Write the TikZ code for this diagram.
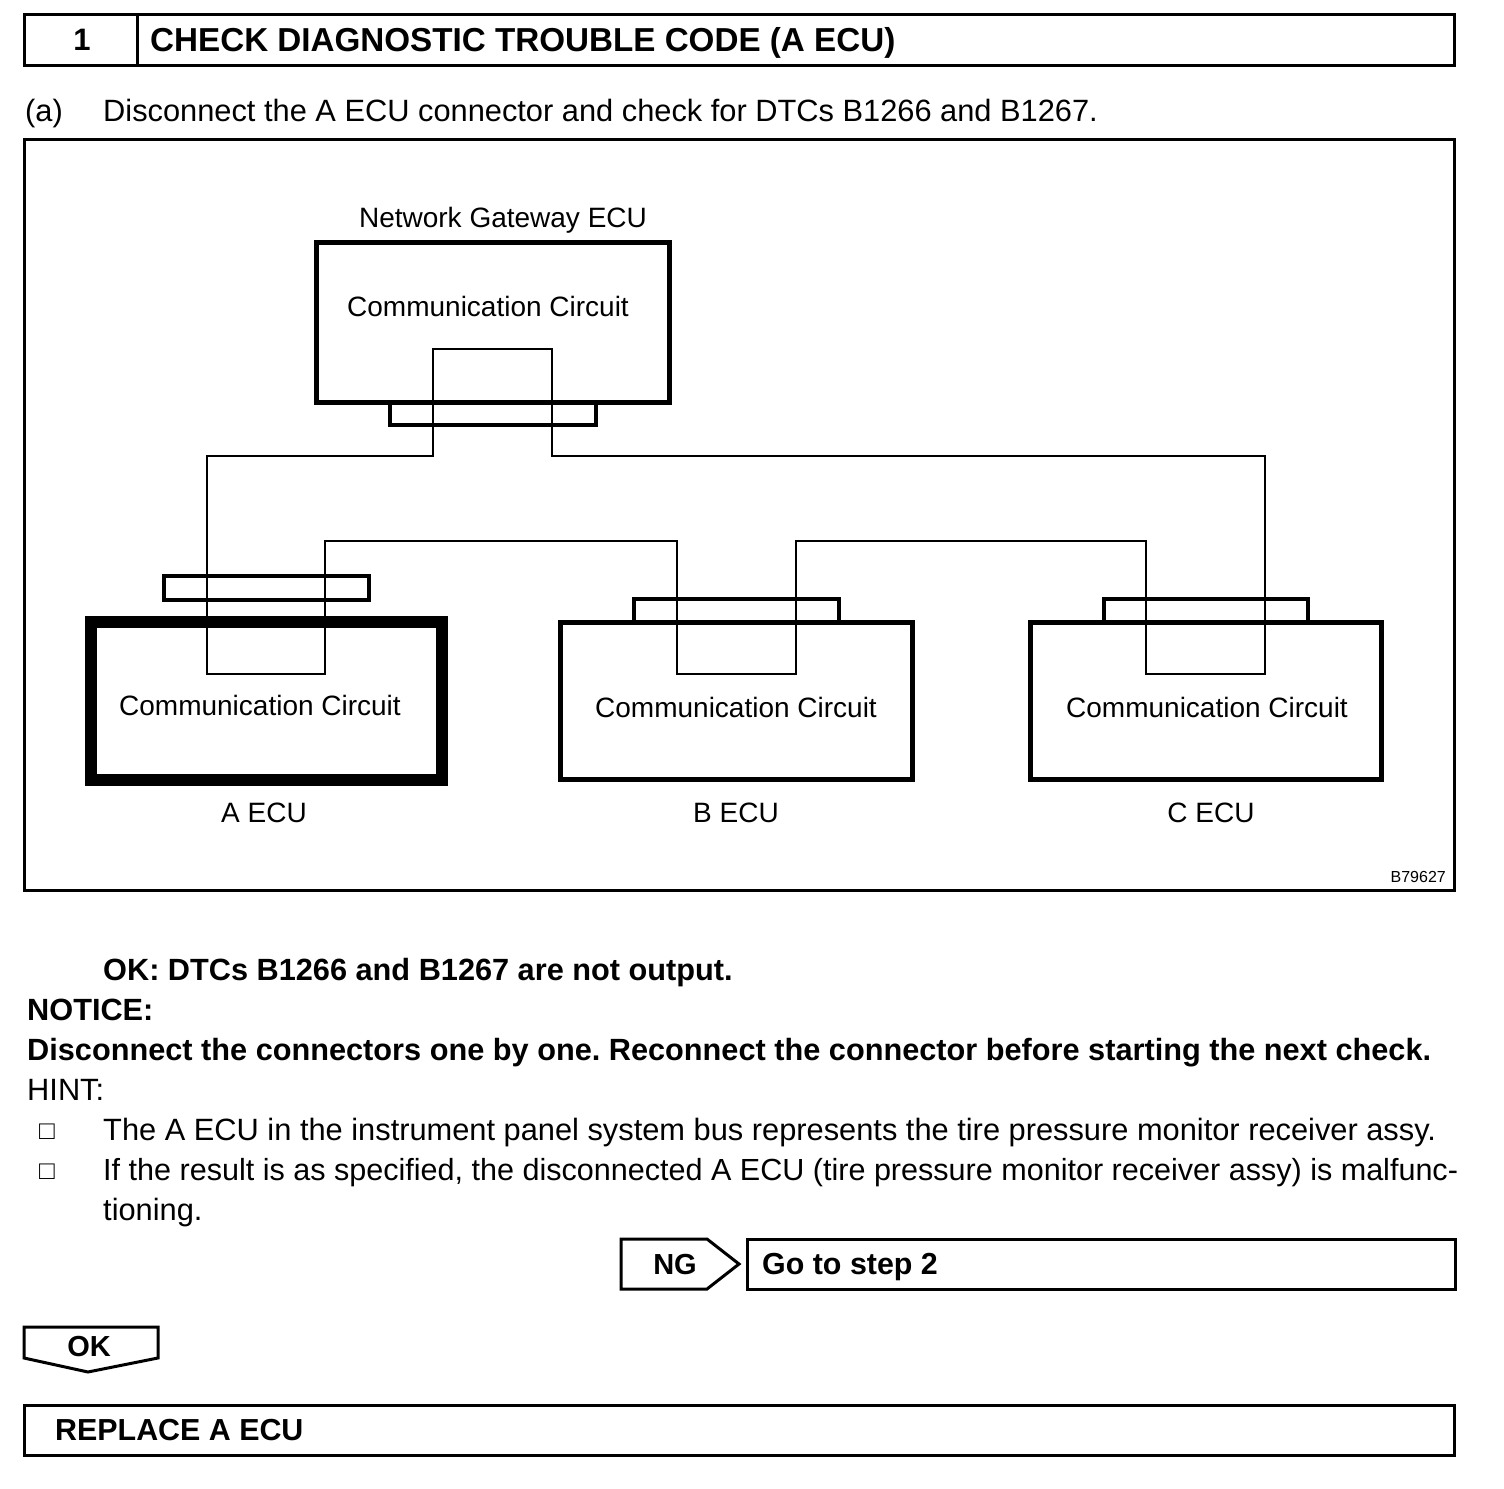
\documentclass[tikz,border=0pt]{standalone}
\usepackage{fontspec}
\setmainfont{Liberation Sans}
\frenchspacing
\begin{document}
\begin{tikzpicture}[x=1pt,y=-1pt,
  txt/.style={font=\fontsize{30.8}{34}\selectfont, inner sep=0pt, anchor=base west},
  btxt/.style={font=\fontsize{30.7}{34}\selectfont\bfseries, inner sep=0pt, anchor=base west},
  ctxt/.style={font=\fontsize{28}{32}\selectfont, inner sep=0pt, anchor=base},
  bullet/.style={font=\fontsize{26}{28}\selectfont, inner sep=0pt, anchor=base},
  thinbox/.style={draw, line width=3pt},
  ecubox/.style={draw, line width=5pt, inner sep=0pt, outer sep=0pt},
  conbox/.style={draw, line width=4pt, inner sep=0pt, outer sep=0pt},
  wire/.style={draw, line width=2.6pt, line join=miter},
  ]
\useasboundingbox (0,0) rectangle (1504,1488);
% header
\draw[thinbox] (24,15) rectangle (1454,66);
\draw[thinbox] (137,15) -- (137,66);
\node[font=\fontsize{31}{34}\selectfont\bfseries, inner sep=0pt, anchor=base] (num) at (82,51) {1};
\node[font=\fontsize{33.2}{36}\selectfont\bfseries, inner sep=0pt, anchor=base west] (title) at (150,52) {CHECK DIAGNOSTIC TROUBLE CODE (A ECU)};
% step (a)
\node[txt] (a) at (25,121) {(a)};
\node[txt] (atext) at (103,121) {Disconnect the A ECU connector and check for DTCs B1266 and B1267.};
% frame
\draw[thinbox] (24,139) rectangle (1454,890);
% gateway
\node[ctxt] (gwlabel) at (503,227) {Network Gateway ECU};
\node[ecubox, minimum width=353pt, minimum height=160pt] (gw) at (492.5,322) {};
\node[ctxt] (gwtext) at (488,316) {Communication Circuit};
\node[conbox, minimum width=206pt, minimum height=23pt] (gwcon) at (493,413.5) {};
% A ECU
\node[draw, line width=12pt, minimum width=351pt, minimum height=158pt, inner sep=0pt] (aecu) at (266.5,701) {};
\node[conbox, minimum width=205pt, minimum height=24pt] (acon) at (266.5,588) {};
\node[ctxt] (atxt) at (260,715) {Communication Circuit};
\node[ctxt] (alab) at (264,822) {A ECU};
% B ECU
\node[ecubox, minimum width=352pt, minimum height=157pt] (becu) at (736,700.5) {};
\node[conbox, minimum width=205pt, minimum height=23pt] (bcon) at (736.5,610.5) {};
\node[ctxt] (btxt) at (736,717) {Communication Circuit};
\node[ctxt] (blab) at (736,822) {B ECU};
% C ECU
\node[ecubox, minimum width=351pt, minimum height=157pt] (cecu) at (1205.5,700.5) {};
\node[conbox, minimum width=204pt, minimum height=23pt] (ccon) at (1206,610.5) {};
\node[ctxt] (ctxt) at (1207,717) {Communication Circuit};
\node[ctxt] (clab) at (1211,822) {C ECU};
% wire corner coordinates
\coordinate (g1) at (433,349);
\coordinate (g2) at (552,349);
\coordinate (g3) at (552,456);
\coordinate (g4) at (1265,456);
\coordinate (c1) at (1265,674);
\coordinate (c2) at (1146,674);
\coordinate (c3) at (1146,541);
\coordinate (b1) at (796,541);
\coordinate (b2) at (796,674);
\coordinate (b3) at (677,674);
\coordinate (b4) at (677,541);
\coordinate (a1) at (325,541);
\coordinate (a2) at (325,674);
\coordinate (a3) at (207,674);
\coordinate (a4) at (207,456);
\coordinate (g0) at (433,456);
\draw[wire] (g1) -- (g2) -- (g3) -- (g4) -- (c1) -- (c2) -- (c3) -- (b1) -- (b2) -- (b3) -- (b4) -- (a1) -- (a2) -- (a3) -- (a4) -- (g0) -- cycle;
\node[font=\fontsize{16}{18}\selectfont, inner sep=0pt, anchor=base east] (code) at (1446,882) {B79627};
% text below
\node[btxt] (ok) at (103,980) {OK: DTCs B1266 and B1267 are not output.};
\node[btxt] (notice) at (27,1020) {NOTICE:};
\node[btxt] (nottext) at (27,1060) {Disconnect the connectors one by one. Reconnect the connector before starting the next check.};
\node[txt] (hint) at (27,1100) {HINT:};
\node[bullet] (bul1) at (47,1139) {□};
\node[txt] (h1) at (103,1140) {The A ECU in the instrument panel system bus represents the tire pressure monitor receiver assy.};
\node[bullet] (bul2) at (47,1179) {□};
\node[txt, font=\fontsize{30.55}{34}\selectfont] (h2) at (103,1180) {If the result is as specified, the disconnected A ECU (tire pressure monitor receiver assy) is malfunc-};
\node[txt] (h3) at (103,1220) {tioning.};
% NG
\draw[thinbox, line join=miter] (621,1239) -- (707,1239) -- (739,1264) -- (707,1289) -- (621,1289) -- cycle;
\node[font=\fontsize{29}{32}\selectfont\bfseries, inner sep=0pt, anchor=base] (ng) at (675,1274) {NG};
\node[thinbox, minimum width=708pt, minimum height=50pt, inner sep=0pt] (go) at (1101,1264) {};
\node[font=\fontsize{30.4}{34}\selectfont\bfseries, inner sep=0pt, anchor=base west] (gotxt) at (762,1274) {Go to step 2};
% OK
\draw[thinbox, line join=miter] (24,1327) -- (158,1327) -- (158,1358) -- (88,1372) -- (24,1358) -- cycle;
\node[font=\fontsize{29}{32}\selectfont\bfseries, inner sep=0pt, anchor=base] (oklab) at (89,1356) {OK};
% replace
\node[thinbox, minimum width=1430pt, minimum height=50pt, inner sep=0pt] (rep) at (739,1430) {};
\node[font=\fontsize{30.4}{34}\selectfont\bfseries, inner sep=0pt, anchor=base west] (reptxt) at (55,1440) {REPLACE A ECU};
\end{tikzpicture}
\end{document}
